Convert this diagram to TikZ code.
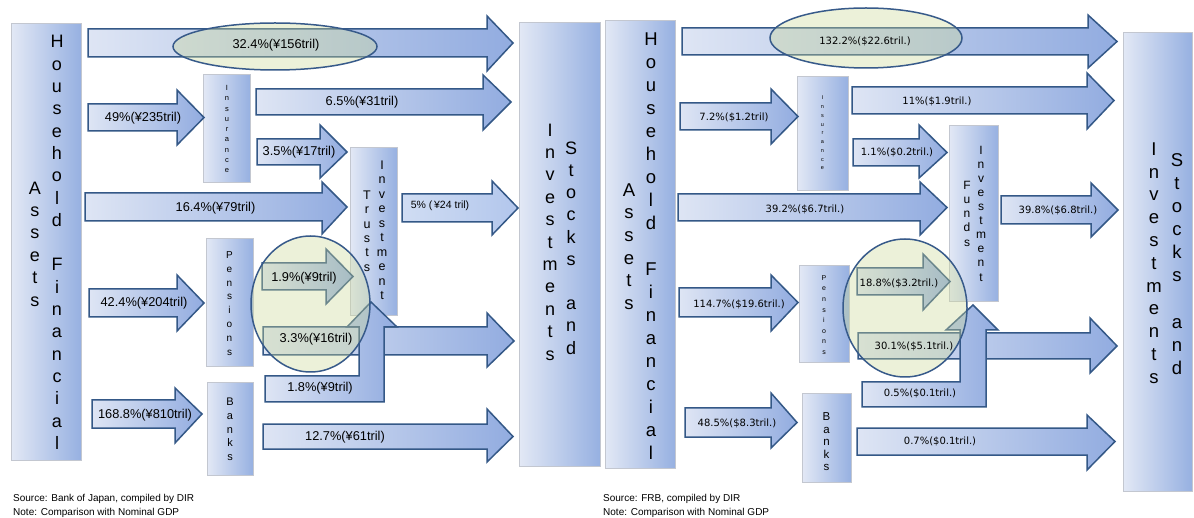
\documentclass[tikz,border=0pt]{standalone}
\usepackage{fontspec}
\setmainfont{Liberation Sans}
\newfontfamily\dvs{DejaVu Sans}
\usetikzlibrary{shapes.geometric}
\definecolor{arrline}{RGB}{52,88,135}
\definecolor{shL}{RGB}{222,229,244}
\definecolor{shR}{RGB}{146,172,224}
\definecolor{ltL}{RGB}{208,221,243}
\definecolor{ltR}{RGB}{178,198,236}
\definecolor{boxL}{RGB}{226,232,245}
\definecolor{boxR}{RGB}{150,176,225}
\definecolor{boxline}{RGB}{195,199,208}
\definecolor{ovfill}{RGB}{205,218,150}
\definecolor{ovline}{RGB}{55,90,138}
\tikzset{
  blk/.style={draw=arrline, line width=1.5pt, left color=shL, right color=shR, line join=miter},
  blklight/.style={draw=arrline, line width=1.5pt, left color=ltL, right color=ltR, line join=miter},
  panel/.style={draw=boxline, line width=1pt, left color=boxL, right color=boxR, inner sep=0pt, anchor=north west},
  ov/.style={ellipse, draw=ovline, line width=1.5pt, fill=ovfill, fill opacity=0.36, inner sep=0pt},
  lbl/.style={font=\fontsize{12.8}{14}\selectfont, inner sep=0pt},
  lblr/.style={font=\dvs\fontsize{10}{12}\selectfont, inner sep=0pt},
  vcol/.style={align=center, inner sep=0pt},
  note/.style={font=\fontsize{10}{12}\selectfont, inner sep=0pt, anchor=west},
}
% box: name, x1, y1, x2, y2
\newcommand\pbox[5]{\node[panel, minimum width={#4-#2}, minimum height={#5-#3}] (#1) at (#2,#3) {};}
% block arrow: [style] x1, ytop, ybot, xbase, headtop, headbot, tip
\newcommand\barrow[8][blk]{\path[#1] (#2,#3) -- (#5,#3) -- (#5,#6) -- (#8,{(#3+#4)/2}) -- (#5,#7) -- (#5,#4) -- (#2,#4) -- cycle;}
% vertical column of letters: name, x, y, size, step, letters
\newcommand\vcolumn[6]{\node[vcol, font=\fontsize{#4}{#5}\selectfont] (#1) at (#2,#3) {#6};}
\begin{document}
\begin{tikzpicture}[x=1pt,y=-1pt]
\useasboundingbox (0,0) rectangle (1194,518);
\fill[white] (0,0) rectangle (1194,518);

% ---------------- LEFT PANEL ----------------
\pbox{hfaL}{11}{23}{81}{460}
\pbox{insL}{203}{74}{250}{182}
\pbox{trL}{350}{147}{397}{315}
\pbox{penL}{206}{238}{253}{366}
\pbox{bnkL}{207}{382}{253}{475}
\pbox{stkL}{519}{22}{600}{466}

\vcolumn{hfaLa}{57}{242.5}{18}{22.3}{H\\o\\u\\s\\e\\h\\o\\l\\d\\\mbox{}\\F\\i\\n\\a\\n\\c\\i\\a\\l}
\vcolumn{hfaLb}{35}{244}{18}{22.4}{A\\s\\s\\e\\t\\s}
\vcolumn{stkLa}{550}{242}{18}{22.4}{I\\n\\v\\e\\s\\t\\m\\e\\n\\t\\s}
\vcolumn{stkLb}{571}{248}{18}{22.2}{S\\t\\o\\c\\k\\s\\\mbox{}\\a\\n\\d}
\vcolumn{trLa}{382}{230.5}{12.5}{14.5}{I\\n\\v\\e\\s\\t\\m\\e\\n\\t}
\vcolumn{trLb}{367}{231}{12.5}{14.4}{T\\r\\u\\s\\t\\s}
\vcolumn{insLt}{227}{129}{7.5}{10.25}{I\\n\\s\\u\\r\\a\\n\\c\\e}
\vcolumn{penLt}{229.5}{303.5}{10}{13.9}{P\\e\\n\\s\\i\\o\\n\\s}
\vcolumn{bnkLt}{230}{429.5}{11}{13.75}{B\\a\\n\\k\\s}

\barrow{88}{29}{57}{487}{16}{71}{513}
\barrow{88}{104}{131}{177}{90}{145}{204}
\barrow{256}{89}{115}{483}{75}{130}{511}
\barrow{257}{139}{165}{320}{125}{178}{347}
\barrow{85}{193}{221}{322}{182}{234}{347}
\barrow[blklight]{402}{194}{222}{492}{181}{235}{518}
\barrow{89}{289}{317}{177}{275}{331}{204}
\barrow{92}{400}{428}{175}{388}{443}{202}
\barrow{263}{424}{449}{487}{409}{462}{513}
\barrow{262}{263}{290}{326}{249}{304}{353}
\barrow{263}{327}{355}{487}{313}{367}{514}
\path[blk] (265,376) -- (359,376) -- (359,327) -- (347,327) -- (371,302) -- (397,327) -- (384,327) -- (384,402) -- (265,402) -- cycle;

\node[ov, minimum width=204pt, minimum height=47pt] (ovL1) at (275,46.5) {};
\node[ov, minimum width=119pt, minimum height=136pt] (ovL2) at (310.5,304) {};

\node[lbl] (l1) at (276,45) {32.4\%(¥156tril)};
\node[lbl] (l2) at (143,118) {49\%(¥235tril)};
\node[lbl] (l3) at (362,102) {6.5\%(¥31tril)};
\node[lbl] (l4) at (299,152) {3.5\%(¥17tril)};
\node[lbl] (l5) at (215.5,208) {16.4\%(¥79tril)};
\node[inner sep=0pt, font=\fontsize{10.5}{12}\selectfont] (l6) at (440,206) {5\% (\,¥24 tril)};
\node[lbl] (l7) at (144,303) {42.4\%(¥204tril)};
\node[lbl] (l8) at (145,415) {168.8\%(¥810tril)};
\node[lbl] (l9) at (304,278) {1.9\%(¥9tril)};
\node[lbl] (l10) at (316,339) {3.3\%(¥16tril)};
\node[lbl] (l11) at (320,388) {1.8\%(¥9tril)};
\node[lbl] (l12) at (345,437) {12.7\%(¥61tril)};

\node[note] (n1) at (13,499) {Source: Bank of Japan, compiled by DIR};
\node[note] (n2) at (13,513) {Note: Comparison with Nominal GDP};

% ---------------- RIGHT PANEL ----------------
\pbox{hfaR}{605}{20}{675}{468}
\pbox{insR}{797}{76}{848}{190}
\pbox{fnR}{949}{125}{998}{301}
\pbox{penR}{799}{265}{849}{362}
\pbox{bnkR}{802}{393}{851}{482}
\pbox{stkR}{1123}{32}{1192}{491}

\vcolumn{hfaRa}{651}{246}{18.5}{23}{H\\o\\u\\s\\e\\h\\o\\l\\d\\\mbox{}\\F\\i\\n\\a\\n\\c\\i\\a\\l}
\vcolumn{hfaRb}{629}{246.5}{18.5}{22.6}{A\\s\\s\\e\\t\\s}
\vcolumn{stkRa}{1154}{263}{18.5}{22.8}{I\\n\\v\\e\\s\\t\\m\\e\\n\\t\\s}
\vcolumn{stkRb}{1177}{264}{18.5}{23.1}{S\\t\\o\\c\\k\\s\\\mbox{}\\a\\n\\d}
\vcolumn{fnRa}{981}{213.5}{12}{14.1}{I\\n\\v\\e\\s\\t\\m\\e\\n\\t}
\vcolumn{fnRb}{967}{213.5}{12}{14.25}{F\\u\\n\\d\\s}
\vcolumn{insRt}{822.5}{133}{5.5}{8.75}{I\\n\\s\\u\\r\\a\\n\\c\\e}
\vcolumn{penRt}{824}{315}{7}{10.6}{P\\e\\n\\s\\i\\o\\n\\s}
\vcolumn{bnkRt}{826.5}{442}{11.5}{12.5}{B\\a\\n\\k\\s}

\barrow{682}{28}{55}{1088}{15}{68}{1117}
\barrow{680}{103}{130}{771}{89}{144}{798}
\barrow{852}{87}{114}{1087}{73}{129}{1114}
\barrow{853}{139}{166}{919}{125}{178}{947}
\barrow{678}{194}{221}{920}{182}{235}{947}
\barrow{1001}{196}{224}{1091}{183}{237}{1118}
\barrow{679}{288}{317}{771}{275}{331}{798}
\barrow{685}{408}{437}{771}{393}{448}{797}
\barrow{857}{428}{455}{1087}{415}{470}{1115}
\barrow{857}{268}{295}{923}{254}{310}{950}
\barrow{858}{333}{359}{1090}{318}{373}{1117}
\path[blk] (862,382) -- (960,382) -- (960,330) -- (946,330) -- (973,305) -- (998,330) -- (986,330) -- (986,407) -- (862,407) -- cycle;

\node[ov, minimum width=192pt, minimum height=60pt] (ovR1) at (866,38) {};
\node[ov, minimum width=124pt, minimum height=138pt] (ovR2) at (905,308) {};

\node[lblr] (r1) at (865,41) {132.2\%(\$22.6tril.)};
\node[lblr] (r2) at (734,117) {7.2\%(\$1.2tril)};
\node[lblr] (r3) at (937,101) {11\%(\$1.9tril.)};
\node[lblr] (r4) at (897,152) {1.1\%(\$0.2tril.)};
\node[lblr] (r5) at (805,209) {39.2\%(\$6.7tril.)};
\node[lblr] (r6) at (1058,210) {39.8\%(\$6.8tril.)};
\node[lblr] (r7) at (739,304) {114.7\%(\$19.6tril.)};
\node[lblr] (r8) at (737,423) {48.5\%(\$8.3tril.)};
\node[lblr] (r9) at (899,283) {18.8\%(\$3.2tril.)};
\node[lblr] (r10) at (914,346) {30.1\%(\$5.1tril.)};
\node[lblr] (r11) at (920,393) {0.5\%(\$0.1tril.)};
\node[lblr] (r12) at (940,441) {0.7\%(\$0.1tril.)};

\node[note] (n3) at (603,499) {Source: FRB, compiled by DIR};
\node[note] (n4) at (603,513) {Note: Comparison with Nominal GDP};
\end{tikzpicture}
\end{document}
